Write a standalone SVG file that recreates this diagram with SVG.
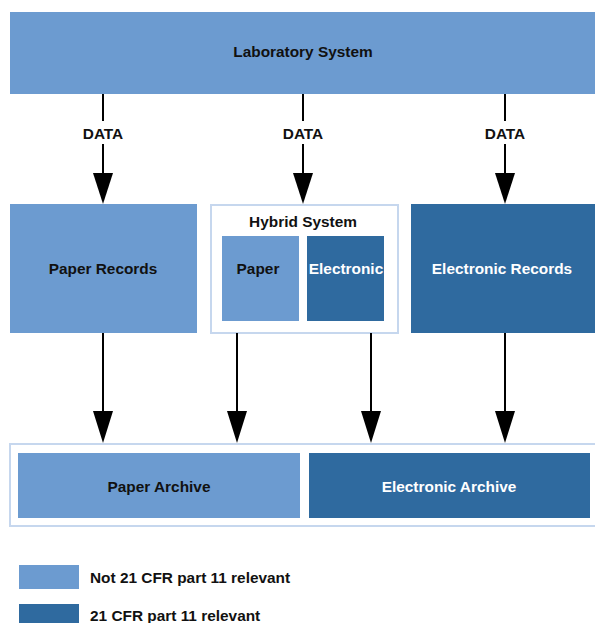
<svg xmlns="http://www.w3.org/2000/svg" width="595" height="623" viewBox="0 0 595 623">
<style>
.l{fill:#6c9bd0}
.d{fill:#2f6a9f}
.frame{fill:#fff;stroke:#c6d7ee;stroke-width:2}
text{font-family:"Liberation Sans",Arial,sans-serif;font-weight:bold;font-size:15.4px;text-anchor:middle;dominant-baseline:central}
.w{fill:#fff}
.k{fill:#111}
.ln{stroke:#000;stroke-width:2;fill:none}
.ah{fill:#000}
</style>
<rect width="595" height="623" fill="#fff"/>
<g id="lab"><rect class="l" x="10" y="12" width="585" height="82"/><text class="k" x="303" y="51">Laboratory System</text></g>
<g id="paper-records"><rect class="l" x="10" y="204" width="187" height="129"/><text class="k" x="103" y="268">Paper Records</text></g>
<g id="hybrid"><rect class="frame" x="211" y="205" width="187" height="128"/><text class="k" x="303" y="221">Hybrid System</text>
<g id="hybrid-paper"><rect class="l" x="222" y="236" width="77" height="85"/><text class="k" x="258" y="268">Paper</text></g>
<g id="hybrid-electronic"><rect class="d" x="307" y="236" width="77" height="85"/><text class="w" x="346" y="268">Electronic</text></g></g>
<g id="electronic-records"><rect class="d" x="411" y="204" width="184" height="129"/><text class="w" x="502" y="268">Electronic Records</text></g>
<g id="archive"><rect class="frame" x="10" y="444" width="590" height="82"/>
<g id="paper-archive"><rect class="l" x="18" y="453" width="282" height="65"/><text class="k" x="159" y="486">Paper Archive</text></g>
<g id="electronic-archive"><rect class="d" x="309" y="453" width="281" height="65"/><text class="w" x="449" y="486">Electronic Archive</text></g></g>
<g id="connectors">
<path class="ln" d="M103 94V121M103 144V175M303 94V121M303 144V175M505 94V121M505 144V175"/>
<text class="k" x="103" y="133">DATA</text><text class="k" x="303" y="133">DATA</text><text class="k" x="505" y="133">DATA</text>
<polygon class="ah" points="93,173 113,173 103,204"/>
<polygon class="ah" points="293,173 313,173 303,204"/>
<polygon class="ah" points="495,173 515,173 505,204"/>
<path class="ln" d="M103 333V412M237 333V412M371 333V412M505 333V412"/>
<polygon class="ah" points="93,411 113,411 103,443"/>
<polygon class="ah" points="227,411 247,411 237,443"/>
<polygon class="ah" points="361,411 381,411 371,443"/>
<polygon class="ah" points="495,411 515,411 505,443"/>
</g>
<g id="legend">
<rect class="l" x="19" y="565" width="60" height="24"/><text class="k" x="90" y="577" style="text-anchor:start">Not 21 CFR part 11 relevant</text>
<rect class="d" x="19" y="604" width="60" height="24"/><text class="k" x="90" y="615" style="text-anchor:start">21 CFR part 11 relevant</text>
</g>
</svg>
